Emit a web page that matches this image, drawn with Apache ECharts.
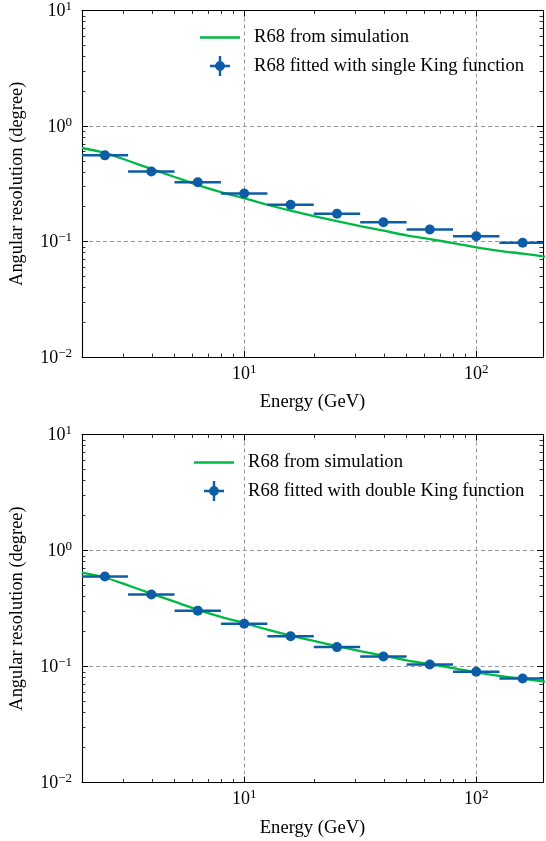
<!DOCTYPE html>
<html>
<head>
<meta charset="utf-8">
<script src="https://cdn.jsdelivr.net/npm/echarts@6/dist/echarts.min.js"></script>
<style>
  html, body { margin: 0; padding: 0; background: #ffffff; }
  #chart { width: 546px; height: 841px; }
</style>
</head>
<body>
<div id="chart"></div>
<script>
// Energy bins (GeV): centres and edges
const energy  = [2.51, 3.98, 6.31, 10.0, 15.85, 25.12, 39.81, 63.10, 100.0, 158.5];
const binLow  = [2.0, 3.16, 5.01, 7.94, 12.59, 19.95, 31.62, 50.12, 79.43, 125.9];
const binHigh = [3.16, 5.01, 7.94, 12.59, 19.95, 31.62, 50.12, 79.43, 125.9, 199.5];

// R68 (degree) fitted with a single King function
const r68Single = [0.557, 0.403, 0.326, 0.260, 0.208, 0.174, 0.147, 0.127, 0.111, 0.0976];
// R68 (degree) fitted with a double King function
const r68Double = [0.596, 0.417, 0.303, 0.234, 0.182, 0.147, 0.122, 0.104, 0.0902, 0.0789];

// R68 (degree) from simulation
const simEnergy = [2.0, 2.51, 3.16, 3.98, 5.01, 6.31, 7.94, 10.0, 12.59, 15.85, 19.95,
                   25.12, 31.62, 39.81, 50.12, 63.10, 79.43, 100.0, 125.9, 158.5, 200.0];
const simR68    = [0.645, 0.585, 0.50, 0.425, 0.362, 0.308, 0.268, 0.237, 0.208, 0.185, 0.166,
                   0.150, 0.136, 0.124, 0.113, 0.105, 0.097, 0.089, 0.083, 0.0785, 0.0738];

// Axis ranges and tick values
const xRange = [2, 194];
const yRange = [0.01, 10];
const xMajorTicks = [10, 100];
const xMinorTicks = [3, 4, 5, 6, 7, 8, 9, 20, 30, 40, 50, 60, 70, 80, 90];
const yMajorTicks = [0.01, 0.1, 1, 10];
const yMinorTicks = [0.02, 0.03, 0.04, 0.05, 0.06, 0.07, 0.08, 0.09,
                     0.2, 0.3, 0.4, 0.5, 0.6, 0.7, 0.8, 0.9,
                     2, 3, 4, 5, 6, 7, 8, 9];

const NAME_SIM = 'R68 from simulation';
const NAME_SINGLE = 'R68 fitted with single King function';
const NAME_DOUBLE = 'R68 fitted with double King function';

const BLUE = '#0C5DA5';
const GREEN = '#00B945';
const FONT = '"Liberation Serif", "DejaVu Serif", serif';
const GRID_COLOR = '#9a9a9a';

// "10^n" labels drawn with a raised exponent
function powLabel(v) {
  const e = Math.round(Math.log10(v));
  return '{b|10}{s|' + (e < 0 ? '\u2212' + (-e) : String(e)) + '}';
}
const powRich = {
  b: { fontSize: 18, fontFamily: FONT, color: '#000', verticalAlign: 'bottom' },
  s: { fontSize: 13, fontFamily: FONT, color: '#000', verticalAlign: 'bottom', padding: [0, 0, 7, 0] }
};

const axisLineStyle = { color: '#000', width: 1.1 };

// Four axes per direction and panel: major ticks on both sides, minor ticks on both sides
function xAxes(gridIndex) {
  const base = { type: 'log', logBase: 10, min: xRange[0], max: xRange[1], gridIndex: gridIndex };
  return [
    Object.assign({}, base, {
      position: 'bottom',
      name: 'Energy (GeV)', nameLocation: 'middle', nameGap: 36,
      nameTextStyle: { fontSize: 18.6, fontFamily: FONT, color: '#000' },
      axisLine: { show: true, lineStyle: axisLineStyle },
      axisTick: { show: true, inside: true, length: 6, customValues: xMajorTicks, lineStyle: { color: '#000', width: 1 } },
      axisLabel: { show: true, customValues: xMajorTicks, margin: 6, formatter: powLabel, rich: powRich },
      splitLine: { show: true, lineStyle: { color: GRID_COLOR, type: [4, 3], width: 1 } }
    }),
    Object.assign({}, base, {
      position: 'top',
      axisLine: { show: true, lineStyle: axisLineStyle },
      axisTick: { show: true, inside: true, length: 6, customValues: xMajorTicks, lineStyle: { color: '#000', width: 1 } },
      axisLabel: { show: false },
      splitLine: { show: false }
    }),
    Object.assign({}, base, {
      position: 'bottom',
      axisLine: { show: false },
      axisTick: { show: true, inside: true, length: 3.5, customValues: xMinorTicks, lineStyle: { color: '#000', width: 0.8 } },
      axisLabel: { show: false },
      splitLine: { show: false }
    }),
    Object.assign({}, base, {
      position: 'top',
      axisLine: { show: false },
      axisTick: { show: true, inside: true, length: 3.5, customValues: xMinorTicks, lineStyle: { color: '#000', width: 0.8 } },
      axisLabel: { show: false },
      splitLine: { show: false }
    })
  ];
}

function yAxes(gridIndex) {
  const base = { type: 'log', logBase: 10, min: yRange[0], max: yRange[1], gridIndex: gridIndex };
  return [
    Object.assign({}, base, {
      position: 'left',
      name: 'Angular resolution (degree)', nameLocation: 'middle', nameGap: 56,
      nameTextStyle: { fontSize: 18.4, fontFamily: FONT, color: '#000' },
      axisLine: { show: true, lineStyle: axisLineStyle },
      axisTick: { show: true, inside: true, length: 6, customValues: yMajorTicks, lineStyle: { color: '#000', width: 1 } },
      axisLabel: { show: true, customValues: yMajorTicks, margin: 10, formatter: powLabel, rich: powRich },
      splitLine: { show: true, lineStyle: { color: GRID_COLOR, type: [4, 3], width: 1 } }
    }),
    Object.assign({}, base, {
      position: 'right',
      axisLine: { show: true, lineStyle: axisLineStyle },
      axisTick: { show: true, inside: true, length: 6, customValues: yMajorTicks, lineStyle: { color: '#000', width: 1 } },
      axisLabel: { show: false },
      splitLine: { show: false }
    }),
    Object.assign({}, base, {
      position: 'left',
      axisLine: { show: false },
      axisTick: { show: true, inside: true, length: 3.5, customValues: yMinorTicks, lineStyle: { color: '#000', width: 0.8 } },
      axisLabel: { show: false },
      splitLine: { show: false }
    }),
    Object.assign({}, base, {
      position: 'right',
      axisLine: { show: false },
      axisTick: { show: true, inside: true, length: 3.5, customValues: yMinorTicks, lineStyle: { color: '#000', width: 0.8 } },
      axisLabel: { show: false },
      splitLine: { show: false }
    })
  ];
}

// Horizontal bin-width bars
function errorBarItem(params, api) {
  const y = api.value(1);
  const p0 = api.coord([api.value(2), y]);
  const p1 = api.coord([api.value(3), y]);
  return {
    type: 'line',
    shape: { x1: p0[0], y1: p0[1], x2: p1[0], y2: p1[1] },
    style: { stroke: BLUE, lineWidth: 2.5 }
  };
}

function panelSeries(axisIndex, name, values) {
  return [
    {
      name: NAME_SIM, type: 'line',
      xAxisIndex: axisIndex, yAxisIndex: axisIndex,
      data: simEnergy.map((e, i) => [e, simR68[i]]),
      symbol: 'none', smooth: 0.3, clip: true,
      lineStyle: { color: GREEN, width: 2.3 }, itemStyle: { color: GREEN },
      z: 2
    },
    {
      name: name, type: 'custom',
      xAxisIndex: axisIndex, yAxisIndex: axisIndex,
      data: energy.map((e, i) => [e, values[i], binLow[i], binHigh[i]]),
      encode: { x: [0, 2, 3], y: 1 },
      renderItem: errorBarItem, clip: true,
      itemStyle: { color: BLUE },
      z: 3
    },
    {
      name: name, type: 'scatter',
      xAxisIndex: axisIndex, yAxisIndex: axisIndex,
      data: energy.map((e, i) => [e, values[i]]),
      symbol: 'circle', symbolSize: 10,
      itemStyle: { color: BLUE, opacity: 1 },
      z: 4
    }
  ];
}

// Legend glyphs: a plain line for the simulation, a marker with error bars for the fit
const LINE_ICON = 'path://M0,0 L40,0 L40,2.3 L0,2.3 Z';
const ERRBAR_ICON = 'path://M0,8.8 L20,8.8 L20,11.2 L0,11.2 Z M8.8,0 L11.2,0 L11.2,20 L8.8,20 Z ' +
  'M14.9,10 A4.9,4.9 0 1,1 5.1,10 A4.9,4.9 0 1,1 14.9,10 Z';

function legendFor(left, top, fitName) {
  return {
    orient: 'vertical', left: left, top: top,
    itemWidth: 40, itemHeight: 20, itemGap: 9,
    padding: 0,
    textStyle: { fontSize: 18.6, fontFamily: FONT, color: '#000', padding: [0, 0, 0, 9] },
    selectedMode: false,
    data: [
      { name: NAME_SIM, icon: LINE_ICON, itemStyle: { color: GREEN } },
      { name: fitName, icon: ERRBAR_ICON, itemStyle: { color: BLUE } }
    ]
  };
}

const chart = echarts.init(document.getElementById('chart'), null, { renderer: 'canvas' });
chart.setOption({
  animation: false,
  backgroundColor: '#ffffff',
  grid: [
    { left: 80, right: 3, top: 10.5, height: 346.5 },
    { left: 80, right: 3, top: 434.5, height: 348 }
  ],
  legend: [
    legendFor(200, 28, NAME_SINGLE),
    legendFor(194, 453, NAME_DOUBLE)
  ],
  xAxis: xAxes(0).concat(xAxes(1)),
  yAxis: yAxes(0).concat(yAxes(1)),
  series: panelSeries(0, NAME_SINGLE, r68Single).concat(panelSeries(4, NAME_DOUBLE, r68Double))
});
</script>
</body>
</html>
